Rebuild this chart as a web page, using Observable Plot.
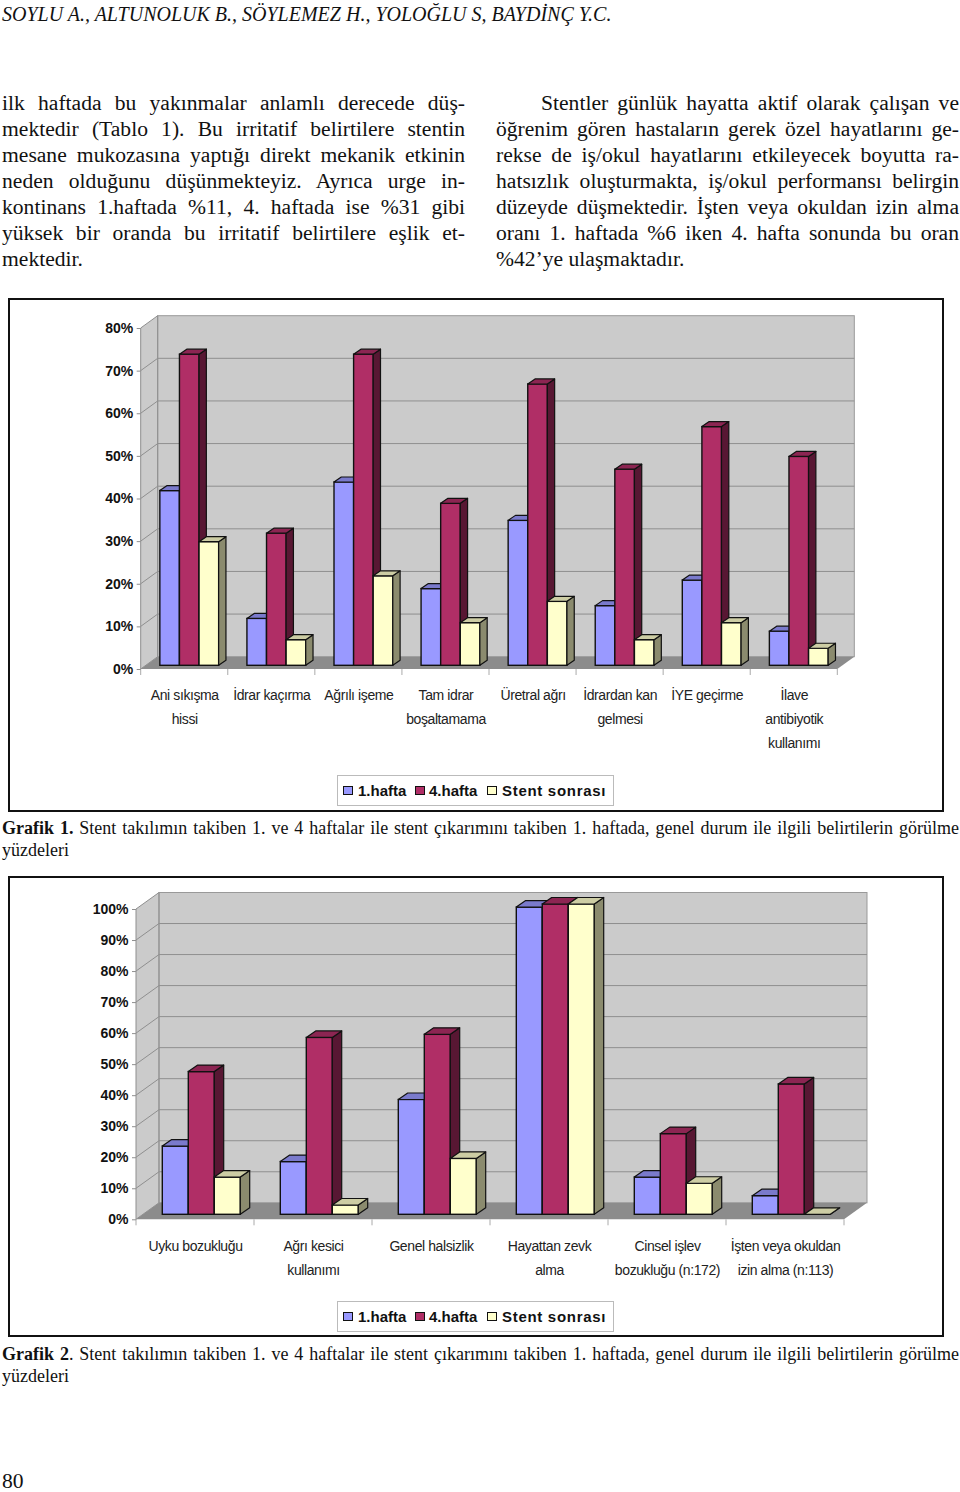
<!DOCTYPE html>
<html lang="tr">
<head>
<meta charset="utf-8">
<script src="https://cdn.jsdelivr.net/npm/d3@7"></script>
<script src="https://cdn.jsdelivr.net/npm/@observablehq/plot@0.6"></script>
<style>
html,body{margin:0;padding:0;background:#fff;}
body{position:relative;width:960px;height:1492px;overflow:hidden;font-family:"Liberation Serif","Times New Roman",serif;color:#111;}
.ln{position:absolute;white-space:nowrap;font-size:21.6px;line-height:26px;height:26px;}
.ln.j{text-align:justify;text-align-last:justify;white-space:normal;}
.cap{font-size:18px;line-height:22px;height:22px;}
.frame{position:absolute;border:2px solid #111;box-sizing:border-box;left:8px;width:936px;}
.chart{position:absolute;left:10px;}
.legend{position:absolute;left:337px;width:277px;height:31px;box-sizing:border-box;border:1px solid #bbb;background:#fff;font:bold 15px "Liberation Sans",Arial,sans-serif;color:#111;}
.legend span{position:absolute;top:5px;line-height:20px;white-space:nowrap;}
.legend i{position:absolute;top:9.5px;width:9.5px;height:9.5px;box-sizing:border-box;border:1.5px solid #111;}
</style>
</head>
<body>
<script>
// ---------- chart data ----------
const categories1 = ["Ani sıkışma\nhissi", "İdrar kaçırma", "Ağrılı işeme", "Tam idrar\nboşaltamama", "Üretral ağrı", "İdrardan kan\ngelmesi", "İYE geçirme", "İlave\nantibiyotik\nkullanımı"];
const hafta1_chart1 = [41, 11, 43, 18, 34, 14, 20, 8];
const hafta4_chart1 = [73, 31, 73, 38, 66, 46, 56, 49];
const stent_chart1  = [29, 6, 21, 10, 15, 6, 10, 4];
const ticks1 = [0, 10, 20, 30, 40, 50, 60, 70, 80];

const categories2 = ["Uyku bozukluğu", "Ağrı kesici\nkullanımı", "Genel halsizlik", "Hayattan zevk\nalma", "Cinsel işlev\nbozukluğu (n:172)", "İşten veya okuldan\nizin alma (n:113)"];
const hafta1_chart2 = [22, 17, 37, 99, 12, 6];
const hafta4_chart2 = [46, 57, 58, 100, 26, 42];
const stent_chart2  = [12, 3, 18, 100, 10, 0];
const ticks2 = [0, 10, 20, 30, 40, 50, 60, 70, 80, 90, 100];

const seriesNames = ["1.hafta", "4.hafta", "Stent sonrası"];
const frontColors = ["#9999ff", "#b02e66", "#ffffcc"];
const topColors   = ["#7a7acc", "#8c2552", "#cdcda4"];
const sideColors  = ["#4d4d80", "#581733", "#8b8b6e"];

// ---------- page text ----------
const headerText = "SOYLU A., ALTUNOLUK B., SÖYLEMEZ H., YOLOĞLU S, BAYDİNÇ Y.C.";
const leftColumn = ["ilk haftada bu yakınmalar anlamlı derecede düş-", "mektedir (Tablo 1). Bu irritatif belirtilere stentin", "mesane mukozasına yaptığı direkt mekanik etkinin", "neden olduğunu düşünmekteyiz. Ayrıca urge in-", "kontinans 1.haftada %11, 4. haftada ise %31 gibi", "yüksek bir oranda bu irritatif belirtilere eşlik et-", "mektedir."];
const rightColumn = ["Stentler günlük hayatta aktif olarak çalışan ve", "öğrenim gören hastaların gerek özel hayatlarını ge-", "rekse de iş/okul hayatlarını etkileyecek boyutta ra-", "hatsızlık oluşturmakta, iş/okul performansı belirgin", "düzeyde düşmektedir. İşten veya okuldan izin alma", "oranı 1. haftada %6 iken 4. hafta sonunda bu oran", "%42’ye ulaşmaktadır."];
const captionBody = " Stent takılımın takiben 1. ve 4 haftalar ile stent çıkarımını takiben 1. haftada, genel durum ile ilgili belirtilerin görülme";
const captionEnd = "yüzdeleri";

function addLine(html, left, top, width, cls) {
  const d = document.createElement("div");
  d.className = "ln " + (cls || "");
  d.style.left = left + "px";
  d.style.top = top + "px";
  if (width) d.style.width = width + "px";
  d.innerHTML = html;
  document.body.appendChild(d);
  return d;
}

const hdr = addLine(headerText, 2, 1, 0, "");
hdr.style.fontStyle = "italic";
hdr.style.fontSize = "20px";
leftColumn.forEach((t, i) => addLine(t, 2, 90 + i * 26, i < 6 ? 463 : 0, i < 6 ? "j" : ""));
rightColumn.forEach((t, i) => {
  if (i === 0) addLine(t, 541, 90, 418, "j");
  else addLine(t, 496, 90 + i * 26, i < 6 ? 463 : 0, i < 6 ? "j" : "");
});
addLine("<b>Grafik 1.</b>" + captionBody, 2, 817, 957, "j cap");
addLine(captionEnd, 2, 839, 0, "cap");
addLine("<b>Grafik 2</b>." + captionBody, 2, 1343, 957, "j cap");
addLine(captionEnd, 2, 1365, 0, "cap");
const pg = addLine("80", 2, 1468, 0, "");

// ---------- 3-D column chart ----------
function chart({top, height, marginLeft, marginRight, marginTop, marginBottom, cats, s1, s2, s3, ticks, yMax,
                wallDx, wallDy, barDx, barDy, sideDx, sideDy, barLeft, barWidth}) {
  const table = cats.flatMap((c, i) => [s1[i], s2[i], s3[i]].map((v, k) => ({category: c, series: seriesNames[k], k, value: v})));
  const W = 932;
  const band = (W - marginLeft - marginRight) / cats.length;

  const shell = (index, {y}, _v, dims) => {
    const g = d3.create("svg:g");
    const x0 = dims.marginLeft, x1 = dims.width - dims.marginRight;
    const y0 = y(0), yt = y(yMax);
    const wall = "#cbcbcb", line = "#8f8f8f";
    g.append("polygon").attr("points", [[x0, y0], [x0 + wallDx, y0 + wallDy], [x0 + wallDx, yt + wallDy], [x0, yt]].join(" ")).attr("fill", wall);
    g.append("rect").attr("x", x0 + wallDx).attr("y", yt + wallDy).attr("width", x1 - x0).attr("height", y0 - yt).attr("fill", wall).attr("stroke", "#999");
    g.append("polygon").attr("points", [[x0, y0], [x1, y0], [x1 + wallDx, y0 + wallDy], [x0 + wallDx, y0 + wallDy]].join(" ")).attr("fill", "#8c8c8c");
    for (const t of ticks) {
      if (t !== 0 && t !== yMax) g.append("line").attr("x1", x0 + wallDx).attr("x2", x1 + wallDx).attr("y1", y(t) + wallDy).attr("y2", y(t) + wallDy).attr("stroke", line);
      g.append("line").attr("x1", x0).attr("x2", x0 + wallDx).attr("y1", y(t)).attr("y2", y(t) + wallDy).attr("stroke", line);
    }
    g.append("line").attr("x1", x0).attr("x2", x0).attr("y1", y0).attr("y2", yt).attr("stroke", line);
    g.append("line").attr("x1", x0 + wallDx).attr("x2", x0 + wallDx).attr("y1", y0 + wallDy).attr("y2", yt + wallDy).attr("stroke", line);
    for (let i = 0; i <= cats.length; i++) {
      const xx = x0 + i * band;
      g.append("line").attr("x1", xx).attr("x2", xx).attr("y1", y0).attr("y2", y0 + 6).attr("stroke", "#aaa");
    }
    return g.node();
  };

  const seriesBars = k => Plot.barY(table.filter(d => d.k === k), {
    x: "category", y: "value",
    fill: frontColors[k], stroke: "#111", strokeWidth: 1.4,
    insetLeft: barLeft + k * barWidth,
    insetRight: band - barLeft - (k + 1) * barWidth,
    dx: barDx, dy: barDy,
    render(index, scales, values, dims, ctx, next) {
      const g = next(index, scales, values, dims, ctx);
      d3.select(g).selectAll("rect").each(function () {
        const r = d3.select(this);
        const x = +r.attr("x"), y = +r.attr("y"), w = +r.attr("width"), h = +r.attr("height");
        const sel = d3.select(this.parentNode);
        sel.append("polygon")
          .attr("points", [[x + w, y], [x + w + sideDx, y + sideDy], [x + w + sideDx, y + h + sideDy], [x + w, y + h]].join(" "))
          .attr("fill", sideColors[k]).attr("stroke", "#111").attr("stroke-width", 1.2).attr("stroke-linejoin", "round");
        sel.append("polygon")
          .attr("points", [[x, y], [x + sideDx, y + sideDy], [x + w + sideDx, y + sideDy], [x + w, y]].join(" "))
          .attr("fill", topColors[k]).attr("stroke", "#111").attr("stroke-width", 1.2).attr("stroke-linejoin", "round");
      });
      return g;
    }
  });

  const svg = Plot.plot({
    width: W, height, marginLeft, marginRight, marginTop, marginBottom,
    style: {fontFamily: '"Liberation Sans", Arial, sans-serif', background: "transparent", overflow: "visible"},
    x: {domain: cats, padding: 0, round: false, label: null},
    y: {domain: [0, yMax], label: null},
    marks: [
      shell,
      seriesBars(0), seriesBars(1), seriesBars(2),
      Plot.axisY({ticks, tickFormat: d => d + "%", tickSize: 4, tickPadding: 4, fontSize: 14, fontWeight: "bold", stroke: "#8f8f8f", fill: "#111", label: null}),
      Plot.axisX({tickSize: 0, tickPadding: 14, fontSize: 14, lineHeight: 1.71, fill: "#222", label: null, tickFormat: d => d})
    ]
  });
  svg.classList.add("chart");
  svg.style.top = top + "px";
  svg.querySelectorAll('[aria-label="x-axis tick label"] text').forEach(t => t.style.letterSpacing = "-0.4px");
  document.body.appendChild(svg);
}

function frame(top, h) {
  const d = document.createElement("div");
  d.className = "frame";
  d.style.top = top + "px";
  d.style.height = h + "px";
  document.body.appendChild(d);
}

function legend(top) {
  const d = document.createElement("div");
  d.className = "legend";
  d.style.top = top + "px";
  const boxX = [5, 77, 149], textX = [20, 91, 164];
  seriesNames.forEach((s, i) => {
    const b = document.createElement("i");
    b.style.left = boxX[i] + "px";
    b.style.background = frontColors[i];
    d.appendChild(b);
    const t = document.createElement("span");
    t.style.left = textX[i] + "px";
    if (i === 2) t.style.letterSpacing = "0.7px";
    t.textContent = s;
    d.appendChild(t);
  });
  document.body.appendChild(d);
}

frame(298, 514);
chart({top: 300, height: 470, marginLeft: 130.7, marginRight: 104.7, marginTop: 28, marginBottom: 101,
  cats: categories1, s1: hafta1_chart1, s2: hafta4_chart1, s3: stent_chart1, ticks: ticks1, yMax: 80,
  wallDx: 17, wallDy: -12.3, barDx: 4.85, barDy: -3.7, sideDx: 7.3, sideDy: -5, barLeft: 14.3, barWidth: 19.6});
legend(775);

frame(876, 461);
chart({top: 878, height: 420, marginLeft: 126, marginRight: 98, marginTop: 31, marginBottom: 78.7,
  cats: categories2, s1: hafta1_chart2, s2: hafta4_chart2, s3: stent_chart2, ticks: ticks2, yMax: 100,
  wallDx: 23, wallDy: -16.5, barDx: 6.8, barDy: -5, sideDx: 9.4, sideDy: -6.5, barLeft: 19.5, barWidth: 26});
legend(1301);
</script>
</body>
</html>
